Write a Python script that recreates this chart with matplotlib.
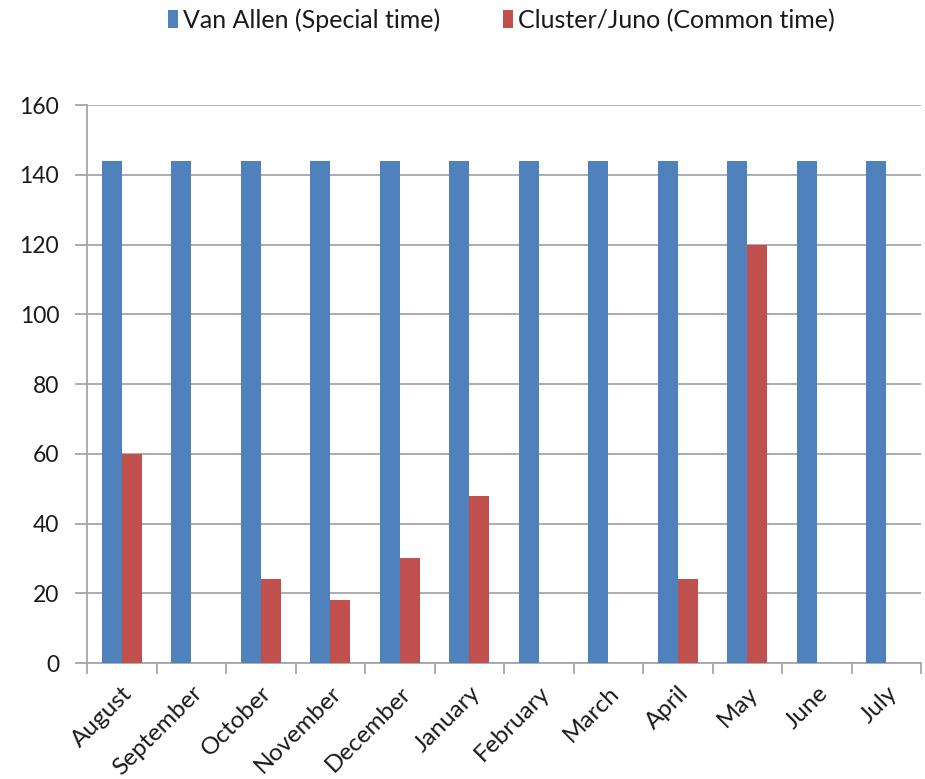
import matplotlib
matplotlib.use("Agg")
import matplotlib.pyplot as plt
import numpy as np
from matplotlib.patches import Patch

months = ["August", "September", "October", "November", "December", "January",
          "February", "March", "April", "May", "June", "July"]
van_allen = [144, 144, 144, 144, 144, 144, 144, 144, 144, 144, 144, 144]
cluster_juno = [60, 0, 24, 18, 30, 48, 0, 0, 24, 120, 0, 0]
y_ticks = [0, 20, 40, 60, 80, 100, 120, 140, 160]

blue = "#4F81BD"
red = "#C0504D"
grid = "#A6A6A6"
text_color = "#1A1A1A"

plt.rcParams["font.family"] = ["Lato", "DejaVu Sans"]

fig = plt.figure(figsize=(9.25, 7.79), dpi=100)
ax = fig.add_axes([87 / 925, 1 - 663 / 779, (921 - 87) / 925, (663 - 105) / 779])

x = np.arange(len(months))
w = 1 / 3.5
ax.bar(x - w / 2, van_allen, width=w, color=blue, zorder=3)
ax.bar(x + w / 2, cluster_juno, width=w, color=red, zorder=3)

ax.set_xlim(-0.5, len(months) - 0.5)
ax.set_ylim(0, 160)
ax.set_yticks(y_ticks)
ax.set_yticklabels([str(v) for v in y_ticks], fontsize=16.5, color=text_color)
ax.yaxis.grid(True, color=grid, linewidth=1.3, zorder=0)
ax.set_axisbelow(True)

ax.set_xticks(np.arange(len(months) + 1) - 0.5)
ax.set_xticklabels([])
ax.set_xticks(x, minor=True)
ax.set_xticklabels(months, minor=True, rotation=45, ha="right", va="top",
                   rotation_mode="anchor", fontsize=17.5, color=text_color)
ax.tick_params(axis="x", which="minor", length=0, pad=14)
ax.tick_params(axis="x", which="major", length=8, width=1.3, color=grid)
ax.tick_params(axis="y", length=9, width=1.3, color=grid, pad=11)

for side in ["top", "right"]:
    ax.spines[side].set_visible(False)
for side in ["left", "bottom"]:
    ax.spines[side].set_color(grid)
    ax.spines[side].set_linewidth(1.3)

handles = [Patch(facecolor=blue, label="Van Allen (Special time)"),
           Patch(facecolor=red, label="Cluster/Juno (Common time)")]
fig.legend(handles=handles, loc="center", bbox_to_anchor=(501 / 925, 1 - 20 / 779),
           ncol=2, frameon=False, fontsize=18, handlelength=0.4, handleheight=0.75,
           handletextpad=0.2, columnspacing=2.5, labelcolor=text_color)

fig.savefig("out.png", dpi=100)
